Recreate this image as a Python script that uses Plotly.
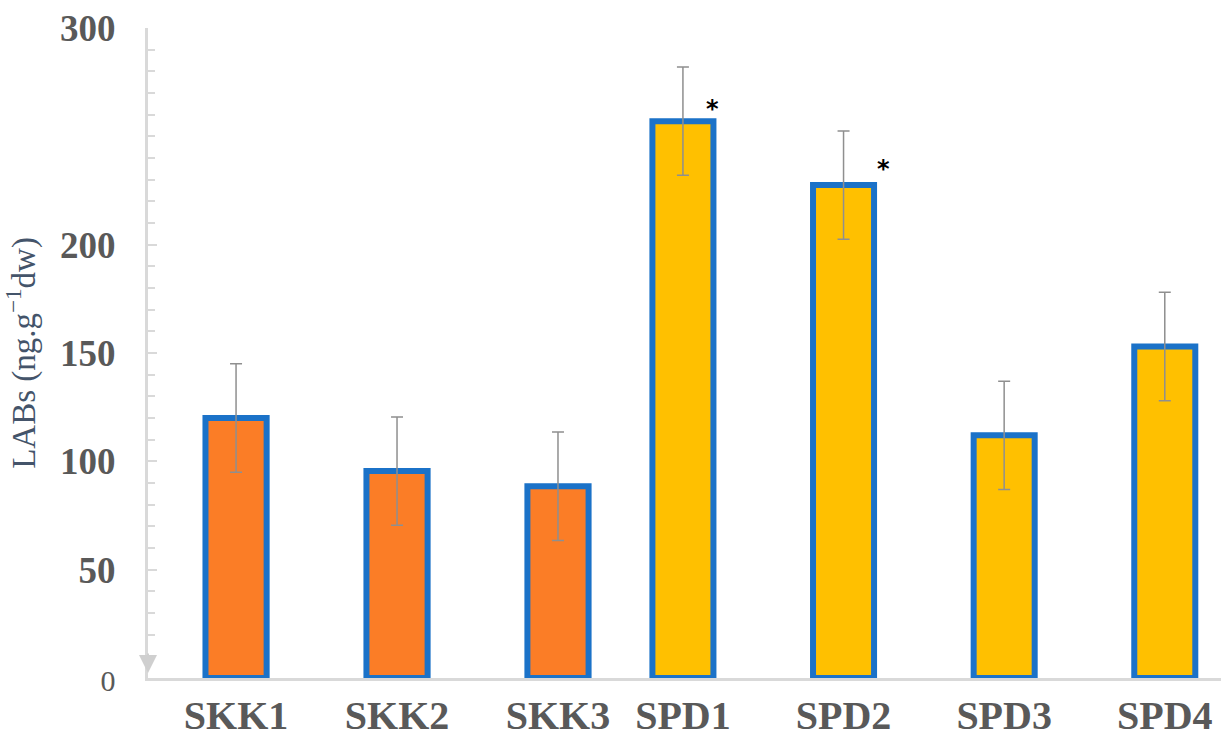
import plotly.graph_objects as go

# ---- data ----
skk_labels = ["SKK1", "SKK2", "SKK3"]
skk_values = [120, 95.5, 88.5]
skk_errors = [25, 25, 25]

spd_labels = ["SPD1", "SPD2", "SPD3", "SPD4"]
spd_values = [257, 227.5, 112, 153]
spd_errors = [25, 25, 25, 25]
spd_marks = ["*", "*", "", ""]

y_tickvals = [0, 50, 100, 150, 200, 300]
y_ticktext = ["<span style='font-weight:normal;font-size:30px'>0</span>",
              "50", "100", "150", "200", "300"]
y_title = "LABs (ng.g<sup>−1</sup>dw)"

# ---- style ----
ORANGE = "#FB7D26"
YELLOW = "#FFC000"
BLUE = "#1B72C8"
ERR = "#8f8f8f"
AXIS = "#d9d9d9"
TXT = "#595959"
FONT = "Liberation Serif"

fig = go.Figure()

fig.add_trace(go.Bar(
    x=skk_labels, y=skk_values, xaxis="x", yaxis="y",
    width=0.38,
    marker=dict(color=ORANGE, line=dict(color=BLUE, width=6)),
    error_y=dict(type="data", array=skk_errors, color=ERR, thickness=1.5, width=6),
    showlegend=False,
))
fig.add_trace(go.Bar(
    x=spd_labels, y=spd_values, xaxis="x2", yaxis="y",
    width=0.38,
    marker=dict(color=YELLOW, line=dict(color=BLUE, width=6)),
    error_y=dict(type="data", array=spd_errors, color=ERR, thickness=1.5, width=6),
    showlegend=False,
))

shifts = [(30, 12), (40, 16)]
k = 0
for lab, val, m in zip(spd_labels, spd_values, spd_marks):
    if m:
        xs, ys = shifts[min(k, len(shifts) - 1)]
        fig.add_annotation(x=lab, y=val, xref="x2", yref="y", text="<b>" + m + "</b>",
                           showarrow=False, xshift=xs, yshift=ys,
                           font=dict(family="DejaVu Sans", size=24, color="black"),
                           yanchor="middle")
        k += 1

# arrow head at bottom of y axis
fig.add_annotation(x=0, y=0, xref="paper", yref="y", ax=0, ay=-26,
                   axref="pixel", ayref="pixel", text="", showarrow=True,
                   arrowhead=2, arrowsize=1.8, arrowwidth=2, arrowcolor="#cfcfcf",
                   standoff=5)

split = (619 - 148) / (1221 - 148)

fig.update_layout(
    width=1221, height=738,
    margin=dict(l=148, r=0, t=28, b=55),
    plot_bgcolor="white", paper_bgcolor="white",
    bargap=0.6,
    xaxis=dict(domain=[0, split], range=[-0.547, 2.379], type="category",
               showline=True, linecolor=AXIS, linewidth=3, ticks="",
               ticklabelstandoff=0, ticklabeloverflow="allow",
               tickfont=dict(family=FONT, size=40, color=TXT, weight="bold"),
               showgrid=False, zeroline=False, anchor="y"),
    xaxis2=dict(domain=[split, 1], range=[-0.398, 3.35], type="category",
                showline=True, linecolor=AXIS, linewidth=3, ticks="",
                ticklabelstandoff=0, ticklabeloverflow="allow",
                tickfont=dict(family=FONT, size=40, color=TXT, weight="bold"),
                showgrid=False, zeroline=False, anchor="y"),
    yaxis=dict(range=[0, 300], tickvals=y_tickvals, ticktext=y_ticktext,
               showline=True, linecolor=AXIS, linewidth=3,
               ticks="inside", ticklen=9, tickwidth=2, tickcolor=AXIS,
               minor=dict(dtick=10, ticks="inside", ticklen=7, tickwidth=2, tickcolor=AXIS),
               ticklabelstandoff=22, ticklabeloverflow="allow",
               tickfont=dict(family=FONT, size=37, color=TXT, weight="bold"),
               showgrid=False, zeroline=False,
               title=dict(text=y_title, standoff=16,
                          font=dict(family=FONT, size=33, color="#44546A"))),
)

fig.write_html("out.html", config={"displayModeBar": False},
               post_script="document.body.style.margin='0';document.body.style.overflow='hidden';")
